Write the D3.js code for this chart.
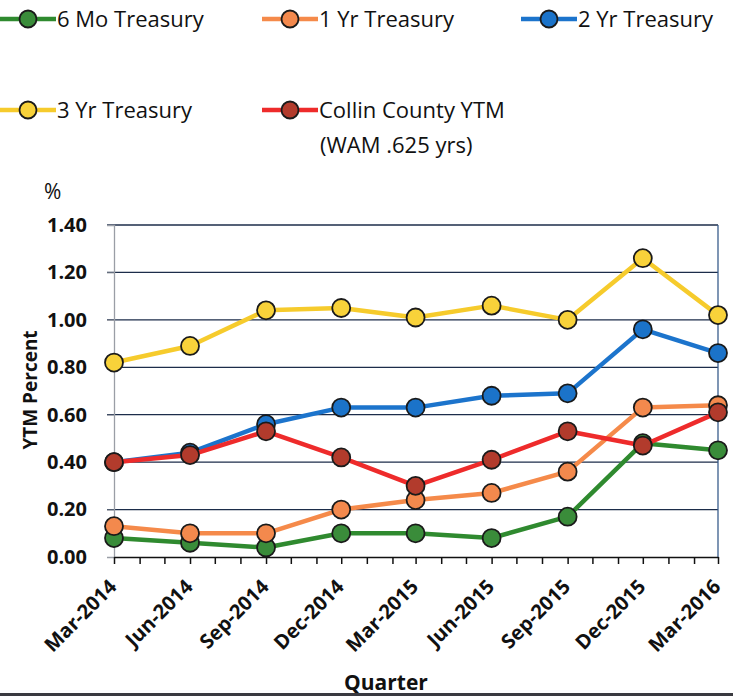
<!DOCTYPE html>
<meta charset="utf-8">
<style>
  body { margin: 0; background: #fff; }
  svg { display: block; font-family: "Open Sans", Lato, "Liberation Sans", sans-serif; }
</style>
<body>
<div id="chart"></div>
<script src="https://d3js.org/d3.v7.min.js"></script>
<script>

// quarters on the x axis
var quarters = ["Mar-2014", "Jun-2014", "Sep-2014", "Dec-2014", "Mar-2015",
                "Jun-2015", "Sep-2015", "Dec-2015", "Mar-2016"];

// YTM values, in %
var sixMo   = [0.08, 0.06, 0.04, 0.10, 0.10, 0.08, 0.17, 0.48, 0.45];
var oneYr   = [0.13, 0.10, 0.10, 0.20, 0.24, 0.27, 0.36, 0.63, 0.64];
var twoYr   = [0.40, 0.44, 0.56, 0.63, 0.63, 0.68, 0.69, 0.96, 0.86];
var threeYr = [0.82, 0.89, 1.04, 1.05, 1.01, 1.06, 1.00, 1.26, 1.02];
var collin  = [0.40, 0.43, 0.53, 0.42, 0.30, 0.41, 0.53, 0.47, 0.61];

var yTicks = [0, 0.2, 0.4, 0.6, 0.8, 1.0, 1.2, 1.4];

var series = [
  { name: "6 Mo Treasury", values: sixMo,   line: "#2f8a2f", fill: "#3a8c3a" },
  { name: "1 Yr Treasury", values: oneYr,   line: "#f58a4a", fill: "#f3894d" },
  { name: "2 Yr Treasury", values: twoYr,   line: "#1c74cc", fill: "#1b73c9" },
  { name: "3 Yr Treasury", values: threeYr, line: "#f6cb2c", fill: "#f8d23a" },
  { name: "Collin County YTM", values: collin, line: "#ee2b2b", fill: "#b23b2c" }
];

var W = 733, H = 696;
var plot = { left: 114, right: 718, top: 225, bottom: 557 };

var svg = d3.select("#chart").append("svg")
    .attr("width", W)
    .attr("height", H);

var parse = d3.timeParse("%b-%Y");
var dates = quarters.map(parse);

var x = d3.scaleTime()
    .domain([dates[0], dates[dates.length - 1]])
    .range([plot.left, plot.right]);

var y = d3.scaleLinear()
    .domain([0, 1.4])
    .range([plot.bottom, plot.top]);

// gridlines
svg.append("g")
    .selectAll("line")
    .data(yTicks.slice(1))
    .enter().append("line")
      .attr("x1", plot.left - 7)
      .attr("x2", plot.right)
      .attr("y1", function(d){ return y(d); })
      .attr("y2", function(d){ return y(d); })
      .attr("stroke", "#1c2d4a")
      .attr("stroke-width", 1.3);

// left axis (grey) + tick labels
var yAxis = svg.append("g")
    .attr("transform", "translate(" + plot.left + ",0)")
    .call(d3.axisLeft(y).tickValues(yTicks).tickFormat(d3.format(".2f")).tickSize(7).tickPadding(20));
yAxis.select(".domain").attr("stroke", "#9a9ea6").attr("stroke-width", 1.3);
yAxis.selectAll(".tick line").attr("stroke", "#9a9ea6");
yAxis.selectAll("text")
    .attr("font-size", 20)
    .attr("font-weight", "bold")
    .attr("font-family", "'Open Sans', Lato, sans-serif")
    .attr("fill", "#111");

// right border
svg.append("line")
    .attr("x1", plot.right).attr("x2", plot.right)
    .attr("y1", plot.top).attr("y2", plot.bottom)
    .attr("stroke", "#3a5d8c")
    .attr("stroke-width", 1.3);

// bottom axis, monthly minor ticks
var xAxis = svg.append("g")
    .attr("transform", "translate(0," + plot.bottom + ")")
    .call(d3.axisBottom(x).ticks(d3.timeMonth.every(1)).tickFormat("").tickSize(7).tickSizeOuter(0));
xAxis.select(".domain").attr("stroke", "#111").attr("stroke-width", 1.5);
xAxis.selectAll(".tick line").attr("stroke", "#111").attr("stroke-width", 1.5);

// quarter labels, rotated
svg.append("g")
    .selectAll("text")
    .data(quarters)
    .enter().append("text")
      .attr("transform", function(d, i){
          return "translate(" + (x(dates[i]) - 1) + "," + (plot.bottom + 26) + ") rotate(-45)";
      })
      .attr("text-anchor", "end")
      .attr("dy", "0.35em")
      .attr("font-size", 20)
      .attr("font-weight", "bold")
      .attr("fill", "#111")
      .text(function(d){ return d; });

// series
var line = d3.line()
    .x(function(d, i){ return x(dates[i]); })
    .y(function(d){ return y(d); });

series.forEach(function(s){
    var g = svg.append("g");
    g.append("path")
        .attr("d", line(s.values))
        .attr("fill", "none")
        .attr("stroke", s.line)
        .attr("stroke-width", 4.5)
        .attr("stroke-linejoin", "round");
    g.selectAll("circle")
        .data(s.values)
        .enter().append("circle")
          .attr("cx", function(d, i){ return x(dates[i]); })
          .attr("cy", function(d){ return y(d); })
          .attr("r", 9)
          .attr("fill", s.fill)
          .attr("stroke", "#1a1a1a")
          .attr("stroke-width", 1.8);
});

// axis titles
svg.append("text")
    .attr("transform", "translate(30,390) rotate(-90)")
    .attr("text-anchor", "middle")
    .attr("dy", "0.35em")
    .attr("font-size", 19)
    .attr("font-weight", "bold")
    .attr("fill", "#111")
    .text("YTM Percent");

svg.append("text")
    .attr("x", 386).attr("y", 690)
    .attr("text-anchor", "middle")
    .attr("font-size", 21)
    .attr("font-weight", "bold")
    .attr("fill", "#111")
    .text("Quarter");

svg.append("text")
    .attr("x", 44).attr("y", 199)
    .attr("font-size", 21)
    .attr("fill", "#111")
    .text("%");

// legend
var legendPos = [
  { x: 0,   y: 19 },
  { x: 262, y: 19 },
  { x: 521, y: 19 },
  { x: 0,   y: 110 },
  { x: 262, y: 110 }
];

series.forEach(function(s, i){
    var p = legendPos[i];
    var g = svg.append("g").attr("transform", "translate(" + p.x + "," + p.y + ")");
    g.append("line")
        .attr("x1", 0).attr("x2", 56)
        .attr("stroke", s.line)
        .attr("stroke-width", 4.5);
    g.append("circle")
        .attr("cx", 28).attr("r", 8.5)
        .attr("fill", s.fill)
        .attr("stroke", "#1a1a1a")
        .attr("stroke-width", 1.8);
    g.append("text")
        .attr("x", 57)
        .attr("dy", "0.35em")
        .attr("font-size", 22)
        .attr("fill", "#111")
        .text(s.name);
});

svg.append("text")
    .attr("x", 320).attr("y", 145)
    .attr("dy", "0.35em")
    .attr("font-size", 22)
    .attr("fill", "#111")
    .text("(WAM .625 yrs)");

// dark scan edge at the bottom
svg.append("rect")
    .attr("x", 0).attr("y", 693)
    .attr("width", W).attr("height", 3)
    .attr("fill", "#3a3a40");

</script>
</body>
